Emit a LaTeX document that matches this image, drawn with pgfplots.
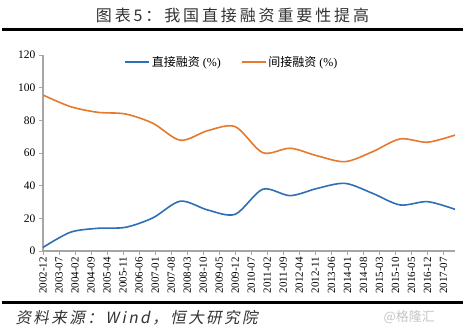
\documentclass[border=0pt]{standalone}
\usepackage{pgfplots}
\pgfplotsset{compat=1.18}
\usepackage{fontspec}
\setmainfont{Liberation Serif}
\newfontfamily\cjk{Noto Sans CJK SC}
\newfontfamily\cjktitle[LetterSpace=18]{Noto Sans CJK SC}
\newfontfamily\cjkit[FakeSlant=0.2,LetterSpace=16]{Noto Sans CJK SC}
\definecolor{dblue}{HTML}{2E6FB5}
\definecolor{dorange}{HTML}{E57A2E}
\definecolor{axgray}{HTML}{A6A6A6}
\begin{document}
\begin{tikzpicture}
\useasboundingbox (0,0) rectangle (465pt,333pt);
\fill[white] (0,0) rectangle (465pt,333pt);
\node[text=black!80] at (232.5pt,318pt) {\cjktitle\fontsize{16}{16}\selectfont 图表5：我国直接融资重要性提高};
\draw[line width=3pt] (2pt,303.5pt) -- (463pt,303.5pt);
\draw[line width=3pt] (2pt,31pt) -- (463pt,31pt);
\node[anchor=west,text=black!80] at (12pt,15pt) {\cjkit\fontsize{15.5}{15.5}\selectfont 资料来源：Wind，恒大研究院};
\node[anchor=west,text=gray!45] at (380pt,16pt) {\cjk\fontsize{13}{13}\selectfont @格隆汇};
\begin{axis}[
  at={(43pt,82pt)}, anchor=south west,
  scale only axis, width=412pt, height=196pt,
  xmin=0, xmax=180, ymin=0, ymax=120,
  axis x line*=bottom, axis y line*=left,
  axis line style={draw=axgray, line width=1.2pt, -},
  xtick={0,7,...,175},
  xticklabels={2002-12,2003-07,2004-02,2004-09,2005-04,2005-11,2006-06,2007-01,2007-08,2008-03,2008-10,2009-05,2009-12,2010-07,2011-02,2011-09,2012-04,2012-11,2013-06,2014-01,2014-08,2015-03,2015-10,2016-05,2016-12,2017-07},
  ytick={0,20,...,120},
  tick align=outside, major tick length=4pt,
  tick style={draw=axgray, line width=0.8pt},
  xticklabel style={rotate=90, anchor=east, font=\rmfamily\fontsize{11}{11}\selectfont, inner sep=2pt},
  yticklabel style={font=\rmfamily\fontsize{11.5}{11.5}\selectfont},
  /pgf/number format/assume math mode=true,
  legend style={at={(rel axis cs:0.19,0.965)}, anchor=west, draw=none, fill=none,
    legend columns=2, font=\rmfamily\fontsize{12}{12}\selectfont,
    /tikz/every even column/.append style={column sep=18pt}},
  legend image code/.code={\draw[#1, line width=1.5pt] (0pt,0pt) -- (24pt,0pt);},
]
\addplot[dblue, line width=1.6pt, smooth] coordinates {
(0,2.2) (12,11.5) (24,13.9) (36,14.5) (48,20.3) (60,30.5) (72,25.1) (84,22.5) (96,37.8) (108,33.9) (120,38.4) (132,41.4) (144,35.3) (156,28.2) (168,30.2) (180,25.5)};
\addlegendentry{{\cjk 直接融资} (\%)}
\addplot[dorange, line width=1.6pt, smooth] coordinates {
(0,95.5) (12,88.4) (24,84.9) (36,83.9) (48,78.2) (60,67.8) (72,73.7) (84,76.1) (96,60.2) (108,62.9) (120,58.2) (132,54.7) (144,60.8) (156,68.6) (168,66.6) (180,71)};
\addlegendentry{{\cjk 间接融资} (\%)}
\end{axis}
\end{tikzpicture}
\end{document}
